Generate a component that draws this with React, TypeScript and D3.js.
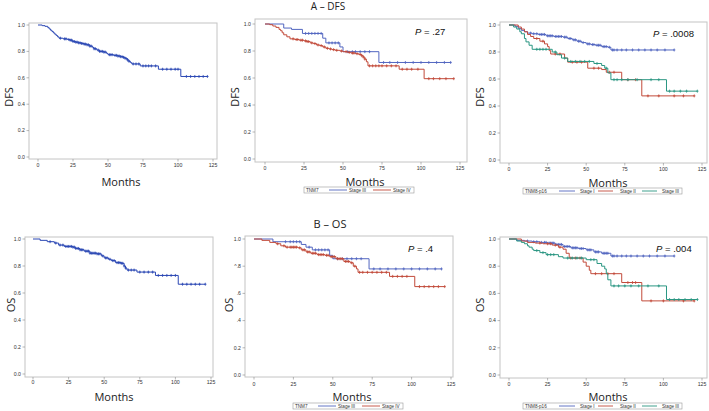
import React from "react";
import * as d3 from "d3";

type Pt = [number, number];

// ---------- data ----------
const xTicks = [0, 25, 50, 75, 100, 125];
const yTicks = [0, 0.2, 0.4, 0.6, 0.8, 1.0];
const yTickLabels = ["0.0", "0.2", "0.4", "0.6", "0.8", "1.0"];
const yTickLabelsCut = ["0.0", "0.2", ".4", ".6", "^.8", "1.0"];

const dfsAll: Pt[] = [[0,1],[3,0.995],[5,0.99],[7,0.98],[8,0.97],[9,0.96],[10,0.95],[11,0.94],[12,0.93],[13,0.92],[14,0.91],[15,0.9],[18,0.895],[21,0.89],[23,0.885],[25,0.875],[27,0.87],[29,0.865],[31,0.86],[33,0.855],[35,0.85],[37,0.84],[39,0.83],[40,0.82],[42,0.81],[44,0.8],[47,0.795],[49,0.785],[50,0.775],[54,0.77],[57,0.765],[59,0.76],[61,0.755],[62,0.75],[63,0.745],[64,0.735],[65,0.725],[66,0.715],[67,0.705],[73,0.69],[86,0.665],[102,0.61],[121,0.61]];
const dfsAllCens = [16,19,20,22,23,24,25,26,27,28,29,30,31,32,33,34,35,36,37,38,40,41,43,44,45,46,47,48,51,52,53,55,56,57,58,59,60,61,62,63,64,65,68,70,72,75,77,79,81,84,89,92,95,98,100,106,109,112,115,118,121];

const dfsT3: Pt[] = [[0,1],[12,0.97],[17,0.96],[24,0.93],[37,0.895],[39,0.86],[48,0.83],[50,0.795],[73,0.715],[119,0.715]];
const dfsT3Cens = [26,28,30,32,34,36,41,43,45,47,53,56,58,61,64,67,76,80,85,90,95,100,105,110,115,119];
const dfsT4: Pt[] = [[0,1],[3,0.995],[5,0.985],[7,0.975],[9,0.96],[10,0.95],[11,0.935],[12,0.92],[14,0.905],[16,0.89],[19,0.885],[22,0.88],[25,0.875],[27,0.87],[29,0.86],[31,0.855],[33,0.845],[35,0.84],[37,0.83],[39,0.82],[41,0.815],[43,0.81],[45,0.805],[48,0.8],[50,0.795],[53,0.79],[55,0.785],[58,0.78],[60,0.775],[62,0.765],[63,0.755],[64,0.74],[65,0.72],[66,0.69],[86,0.665],[102,0.595],[121,0.595]];
const dfsT4Cens = [18,20,21,23,24,26,27,28,30,32,34,36,38,40,42,44,46,49,52,54,56,57,59,61,62,63,64,67,69,71,73,75,78,81,84,88,91,94,98,105,108,112,116,121];

const dfsP1: Pt[] = [[0,1],[4,0.99],[6,0.975],[8,0.96],[10,0.95],[12,0.94],[15,0.935],[19,0.93],[24,0.92],[29,0.915],[35,0.91],[38,0.9],[41,0.89],[44,0.88],[47,0.87],[50,0.86],[53,0.855],[56,0.85],[60,0.84],[64,0.835],[66,0.815],[107,0.815]];
const dfsP1Cens = [14,16,18,20,21,22,23,25,26,27,28,30,31,32,33,34,36,37,39,40,42,43,45,46,48,51,52,54,55,57,58,59,61,62,63,65,67,68,70,73,76,80,84,88,92,96,101,107];
const dfsP2: Pt[] = [[0,1],[6,0.985],[8,0.97],[10,0.95],[12,0.93],[14,0.915],[16,0.9],[20,0.88],[23,0.86],[25,0.84],[26,0.81],[27,0.785],[36,0.755],[38,0.725],[51,0.68],[60,0.67],[63,0.65],[73,0.595],[86,0.475],[120,0.475]];
const dfsP2Cens = [18,22,30,33,41,44,47,55,58,65,68,77,82,90,97,107,113,120];
const dfsP3: Pt[] = [[0,1],[3,0.985],[5,0.97],[7,0.95],[8,0.935],[10,0.9],[11,0.875],[13,0.85],[15,0.82],[28,0.8],[31,0.78],[34,0.755],[38,0.73],[55,0.715],[60,0.7],[62,0.68],[64,0.645],[66,0.595],[102,0.51],[122,0.51]];
const dfsP3Cens = [18,20,22,24,30,36,40,43,46,49,52,57,63,68,70,73,77,83,92,97,104,107,111,115,122];

const osAll: Pt[] = [[0,1],[5,0.99],[10,0.98],[15,0.97],[18,0.955],[22,0.945],[28,0.94],[30,0.93],[33,0.92],[36,0.91],[40,0.895],[45,0.89],[48,0.875],[50,0.86],[53,0.85],[55,0.84],[58,0.825],[62,0.82],[64,0.8],[65,0.785],[66,0.77],[73,0.755],[86,0.73],[102,0.665],[121,0.665]];
const osAllCens = [12,16,19,21,23,24,25,26,27,28,29,30,31,32,33,34,35,37,38,39,40,41,42,43,44,45,46,47,49,51,52,54,56,57,59,60,61,62,63,64,65,67,69,71,75,78,81,84,88,91,94,97,100,105,108,111,114,117,121];

const osT3: Pt[] = [[0,1],[12,0.98],[30,0.96],[33,0.94],[37,0.92],[48,0.88],[50,0.855],[73,0.78],[119,0.78]];
const osT3Cens = [20,23,25,27,29,35,39,41,43,45,47,53,56,59,62,65,68,76,80,85,90,95,100,105,110,115,119];
const osT4: Pt[] = [[0,1],[5,0.99],[10,0.975],[14,0.965],[17,0.95],[20,0.94],[28,0.935],[30,0.92],[33,0.905],[36,0.895],[40,0.885],[45,0.88],[48,0.87],[52,0.855],[57,0.835],[61,0.825],[63,0.8],[65,0.78],[66,0.755],[86,0.725],[102,0.65],[121,0.65]];
const osT4Cens = [15,19,21,23,24,25,26,27,29,31,32,34,35,37,38,39,41,42,43,44,46,47,49,50,51,53,54,55,56,58,59,60,62,64,67,69,72,75,78,81,84,88,91,94,97,105,108,111,114,117,121];

const osP1: Pt[] = [[0,1],[5,0.99],[10,0.985],[15,0.98],[20,0.975],[25,0.97],[30,0.96],[35,0.945],[40,0.935],[45,0.93],[50,0.92],[55,0.905],[60,0.895],[66,0.875],[107,0.875]];
const osP1Cens = [12,16,18,21,23,24,26,27,28,29,31,32,33,34,36,37,38,39,41,42,43,44,46,47,48,51,52,53,56,57,58,61,62,63,64,67,68,70,73,76,79,83,87,91,96,101,107];
const osP2: Pt[] = [[0,1],[8,0.985],[12,0.975],[17,0.97],[22,0.965],[28,0.955],[32,0.94],[35,0.925],[37,0.895],[39,0.86],[48,0.83],[50,0.8],[52,0.77],[53,0.745],[73,0.68],[86,0.545],[120,0.545]];
const osP2Cens = [20,25,27,30,33,40,43,46,56,60,64,68,77,80,82,92,100,113,120];
const osP3: Pt[] = [[0,1],[5,0.985],[8,0.975],[10,0.965],[12,0.95],[13,0.94],[15,0.925],[16,0.915],[20,0.9],[24,0.885],[32,0.87],[35,0.86],[50,0.848],[57,0.82],[60,0.8],[62,0.78],[63,0.745],[64,0.7],[66,0.655],[102,0.555],[122,0.555]];
const osP3Cens = [18,22,25,27,29,38,41,44,47,53,55,68,71,75,79,84,90,97,104,107,110,114,118,122];

// ---------- styling ----------
const C_SINGLE = "#2b47b4";
const C_BLUE = "#5266c0";
const C_RED = "#c24a3a";
const C_GREEN = "#2a9682";
const LABEL_FONT = "'Open Sans', 'Liberation Sans', sans-serif";
const TICK_FONT = "'Liberation Sans', Arial, sans-serif";

type Series = { curve: Pt[]; cens: number[]; color: string };
type LegendItem = { text: string; color?: string; x: number; x2?: number; tx?: number };
type PanelCfg = {
  frame: { l: number; t: number; r: number; b: number };
  x0: number; x125: number; y1: number; y0: number;
  tickY: number;
  monthsX: number; monthsY: number;
  ylabel: string; ylabelX: number; ylabelY: number;
  yLabels: string[];
  yTickLabelX?: number;
  series: Series[];
  p?: { text: string; x: number; y: number };
  legend?: { x: number; y: number; w: number; h: number; items: LegendItem[] };
};

const panels: PanelCfg[] = [
  {
    frame: { l: 29, t: 23, r: 217, b: 159 }, x0: 38, x125: 213, y1: 25, y0: 157, tickY: 167,
    monthsX: 121, monthsY: 186, ylabel: "DFS", ylabelX: 8, ylabelY: 97, yLabels: yTickLabels,
    series: [{ curve: dfsAll, cens: dfsAllCens, color: C_SINGLE }],
  },
  {
    frame: { l: 255, t: 19, r: 467, b: 162 }, x0: 265, x125: 460, y1: 24, y0: 159, tickY: 170,
    monthsX: 365, monthsY: 186, ylabel: "DFS", ylabelX: 234, ylabelY: 97, yLabels: yTickLabels,
    series: [{ curve: dfsT3, cens: dfsT3Cens, color: C_BLUE }, { curve: dfsT4, cens: dfsT4Cens, color: C_RED }],
    p: { text: " = .27", x: 415, y: 35 },
    legend: { x: 304, y: 187, w: 110, h: 6, items: [
      { text: "TNM7", x: 306 },
      { text: "Stage III", color: C_BLUE, x: 329, x2: 347, tx: 349 },
      { text: "Stage IV", color: C_RED, x: 373, x2: 391, tx: 393 },
    ] },
  },
  {
    frame: { l: 500, t: 22, r: 707, b: 163 }, x0: 509, x125: 702, y1: 25, y0: 160, tickY: 171,
    monthsX: 608, monthsY: 187, ylabel: "DFS", ylabelX: 479, ylabelY: 97, yLabels: yTickLabels,
    series: [
      { curve: dfsP1, cens: dfsP1Cens, color: C_BLUE },
      { curve: dfsP2, cens: dfsP2Cens, color: C_RED },
      { curve: dfsP3, cens: dfsP3Cens, color: C_GREEN },
    ],
    p: { text: " = .0008", x: 653, y: 37 },
    legend: { x: 523, y: 188, w: 159, h: 6, items: [
      { text: "TNM8-p16", x: 525 },
      { text: "Stage I", color: C_BLUE, x: 559, x2: 575, tx: 580 },
      { text: "Stage II", color: C_RED, x: 598, x2: 613, tx: 620 },
      { text: "Stage III", color: C_GREEN, x: 642, x2: 657, tx: 662 },
    ] },
  },
  {
    frame: { l: 25, t: 237, r: 213, b: 377 }, x0: 33, x125: 211, y1: 239, y0: 374, tickY: 384,
    monthsX: 114, monthsY: 401, ylabel: "OS", ylabelX: 10, ylabelY: 305, yLabels: yTickLabels,
    series: [{ curve: osAll, cens: osAllCens, color: C_SINGLE }],
  },
  {
    frame: { l: 245, t: 236, r: 453, b: 377 }, x0: 254, x125: 451, y1: 239, y0: 375, tickY: 386,
    monthsX: 352, monthsY: 401, ylabel: "OS", ylabelX: 228, ylabelY: 305, yLabels: yTickLabelsCut,
    series: [{ curve: osT3, cens: osT3Cens, color: C_BLUE }, { curve: osT4, cens: osT4Cens, color: C_RED }],
    p: { text: " = .4", x: 408, y: 252 },
    legend: { x: 293, y: 403, w: 110, h: 6, items: [
      { text: "TNM7", x: 295 },
      { text: "Stage III", color: C_BLUE, x: 318, x2: 336, tx: 338 },
      { text: "Stage IV", color: C_RED, x: 362, x2: 380, tx: 382 },
    ] },
  },
  {
    frame: { l: 500, t: 237, r: 707, b: 378 }, x0: 509, x125: 702, y1: 239, y0: 375, tickY: 386,
    monthsX: 608, monthsY: 401, ylabel: "OS", ylabelX: 479, ylabelY: 305, yLabels: yTickLabels,
    series: [
      { curve: osP1, cens: osP1Cens, color: C_BLUE },
      { curve: osP2, cens: osP2Cens, color: C_RED },
      { curve: osP3, cens: osP3Cens, color: C_GREEN },
    ],
    p: { text: " = .004", x: 656, y: 252 },
    legend: { x: 523, y: 403, w: 159, h: 6, items: [
      { text: "TNM8-p16", x: 525 },
      { text: "Stage I", color: C_BLUE, x: 559, x2: 575, tx: 580 },
      { text: "Stage II", color: C_RED, x: 598, x2: 613, tx: 620 },
      { text: "Stage III", color: C_GREEN, x: 642, x2: 657, tx: 662 },
    ] },
  },
];

function survAt(curve: Pt[], t: number): number {
  let v = curve[0][1];
  for (const [ct, cv] of curve) {
    if (ct <= t) v = cv;
    else break;
  }
  return v;
}

function Panel({ cfg }: { cfg: PanelCfg }) {
  const x = d3.scaleLinear().domain([0, 125]).range([cfg.x0, cfg.x125]);
  const y = d3.scaleLinear().domain([0, 1]).range([cfg.y0, cfg.y1]);
  const line = d3.line<Pt>().x((d) => x(d[0])).y((d) => y(d[1])).curve(d3.curveStepAfter);
  const f = cfg.frame;
  const ytx = f.l - 4;
  return (
    <g>
      <rect x={f.l} y={f.t} width={f.r - f.l} height={f.b - f.t} fill="white" stroke="#c4c4c4" strokeWidth={1} />
      {xTicks.map((t) => (
        <g key={"x" + t}>
          <line x1={x(t)} x2={x(t)} y1={f.b} y2={f.b + 2.5} stroke="#888" strokeWidth={0.6} />
          <text x={x(t)} y={cfg.tickY} fontSize={5.2} fontFamily={TICK_FONT} fill="#333" textAnchor="middle">{t}</text>
        </g>
      ))}
      {yTicks.map((t, i) => (
        <g key={"y" + t}>
          <line x1={f.l - 2.5} x2={f.l} y1={y(t)} y2={y(t)} stroke="#888" strokeWidth={0.6} />
          <text x={ytx} y={y(t) + 1.8} fontSize={5.2} fontFamily={TICK_FONT} fill="#333" textAnchor="end">{cfg.yLabels[i]}</text>
        </g>
      ))}
      {cfg.series.map((s, i) => (
        <g key={"s" + i}>
          <path d={line(s.curve) || ""} fill="none" stroke={s.color} strokeWidth={1} />
          {s.cens.map((c, j) => {
            const cx = x(c);
            const cy = y(survAt(s.curve, c));
            return (
              <path key={j} d={`M${cx},${cy - 1.5}V${cy + 1.5}M${cx - 1.2},${cy}H${cx + 1.2}`} stroke={s.color} strokeWidth={0.8} fill="none" />
            );
          })}
        </g>
      ))}
      <text x={cfg.monthsX} y={cfg.monthsY} fontSize={11} fontFamily={LABEL_FONT} fill="#222" textAnchor="middle">Months</text>
      <text transform={`translate(${cfg.ylabelX},${cfg.ylabelY}) rotate(-90)`} fontSize={11} fontFamily={LABEL_FONT} fill="#222" textAnchor="middle" dominantBaseline="central">{cfg.ylabel}</text>
      {cfg.p && (
        <text x={cfg.p.x} y={cfg.p.y} fontSize={9.5} fontFamily={TICK_FONT} fill="#111">
          <tspan fontStyle="italic">P</tspan>{cfg.p.text}
        </text>
      )}
      {cfg.legend && (
        <g>
          <rect x={cfg.legend.x} y={cfg.legend.y} width={cfg.legend.w} height={cfg.legend.h} fill="white" stroke="#999" strokeWidth={0.6} />
          {cfg.legend.items.map((it, k) => (
            <g key={k}>
              {it.color ? (
                <>
                  <line x1={it.x} x2={it.x2} y1={cfg.legend!.y + cfg.legend!.h / 2} y2={cfg.legend!.y + cfg.legend!.h / 2} stroke={it.color} strokeWidth={0.9} />
                  <text x={it.tx} y={cfg.legend!.y + cfg.legend!.h / 2 + 1.6} fontSize={4.6} fontFamily={TICK_FONT} fill="#333">{it.text}</text>
                </>
              ) : (
                <text x={it.x} y={cfg.legend!.y + cfg.legend!.h / 2 + 1.6} fontSize={4.6} fontFamily={TICK_FONT} fill="#333">{it.text}</text>
              )}
            </g>
          ))}
        </g>
      )}
    </g>
  );
}

export default function App() {
  return (
    <svg width={709} height={411} viewBox="0 0 709 411" style={{ position: "absolute", left: 0, top: 0, background: "white" }}>
      <rect x={0} y={0} width={709} height={411} fill="white" />
      {panels.map((p, i) => <Panel key={i} cfg={p} />)}
      <text x={328} y={10} fontSize={10} fontFamily={LABEL_FONT} fill="#222" textAnchor="middle">A – DFS</text>
      <text x={330} y={228} fontSize={11} fontFamily={LABEL_FONT} fill="#222" textAnchor="middle">B – OS</text>
    </svg>
  );
}
